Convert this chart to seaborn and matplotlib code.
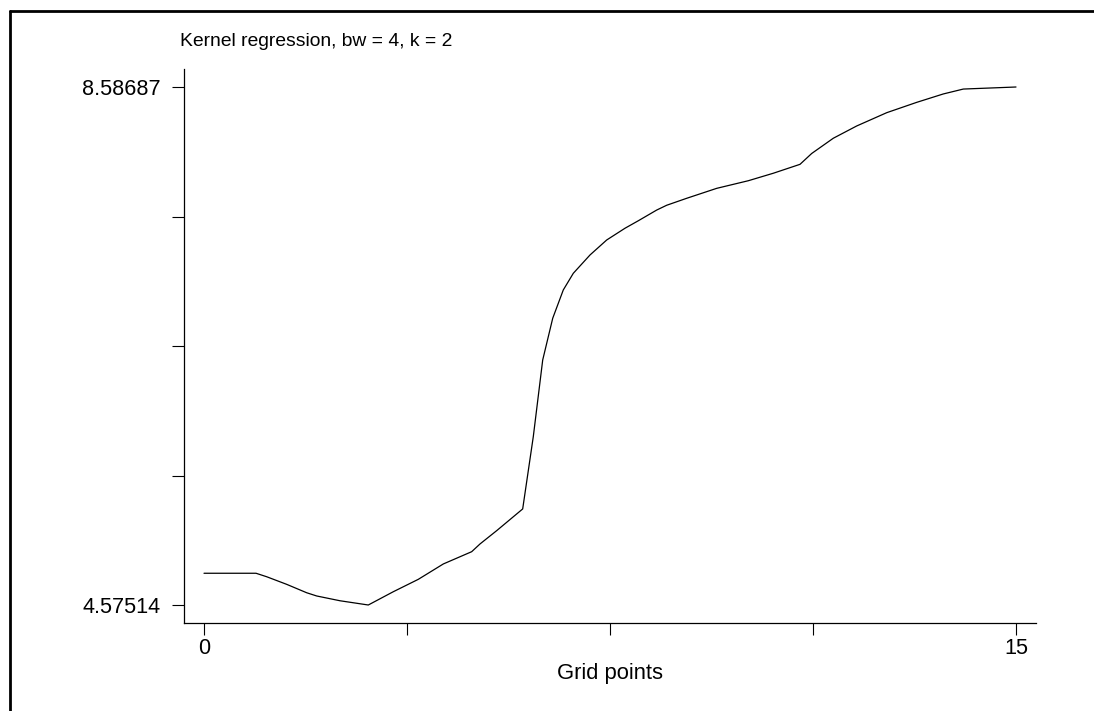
import matplotlib
matplotlib.use("Agg")
import matplotlib.pyplot as plt
from matplotlib.lines import Line2D
import seaborn as sns
import pandas as pd

# values
grid_x = [0.0, 0.961, 1.158, 1.528, 1.897, 2.082, 2.512, 3.035, 3.497, 3.959,
          4.421, 4.945, 5.099, 5.407, 5.887, 6.083, 6.257, 6.442, 6.637, 6.822,
          7.131, 7.439, 7.777, 8.023, 8.363, 8.547, 8.917, 9.471, 10.055, 10.517,
          11.010, 11.226, 11.625, 12.057, 12.612, 13.166, 13.657, 14.027, 15.0]
fit_y = [4.821, 4.821, 4.794, 4.735, 4.670, 4.645, 4.608, 4.57514, 4.678, 4.774,
         4.893, 4.988, 5.048, 5.151, 5.319, 5.879, 6.473, 6.796, 7.015, 7.144,
         7.286, 7.402, 7.493, 7.551, 7.634, 7.671, 7.725, 7.802, 7.861, 7.919,
         7.988, 8.072, 8.190, 8.285, 8.388, 8.468, 8.533, 8.571, 8.58687]

y_min = 4.57514
y_max = 8.58687
y_tick_labels = ["4.57514", "", "", "", "8.58687"]
x_tick_vals = [0, 3.75, 7.5, 11.25, 15]
x_tick_labels = ["0", "", "", "", "15"]
title = "Kernel regression, bw = 4, k = 2"
x_label = "Grid points"

df = pd.DataFrame({"x": grid_x, "y": fit_y})

sns.set_style("ticks")
plt.rcParams["font.family"] = ["Liberation Sans", "DejaVu Sans"]
plt.rcParams["text.color"] = "black"
plt.rcParams["axes.labelcolor"] = "black"
plt.rcParams["xtick.color"] = "black"
plt.rcParams["ytick.color"] = "black"

fig = plt.figure(figsize=(10.94, 7.11), dpi=100)
ax = fig.add_axes([184 / 1094, 1 - 623 / 711, 852 / 1094, 554 / 711])

sns.lineplot(data=df, x="x", y="y", ax=ax, color="black", linewidth=0.9)

step = (y_max - y_min) / 4
ax.set_yticks([y_min + k * step for k in range(5)])
ax.set_yticklabels(y_tick_labels)
ax.set_xticks(x_tick_vals)
ax.set_xticklabels(x_tick_labels)

px_x = 15 / 812
px_y = (y_max - y_min) / 518
ax.set_xlim(-20 * px_x, 15 + 20 * px_x)
ax.set_ylim(y_min - 18 * px_y, y_max + 18 * px_y)

ax.set_xlabel(x_label, fontsize=15.8, labelpad=3)
ax.set_ylabel("")
ax.tick_params(axis="both", length=8.6, width=0.8, labelsize=15.6,
               color="black", labelcolor="black")
ax.tick_params(axis="y", pad=8)
ax.tick_params(axis="x", pad=2)
for side in ["top", "right"]:
    ax.spines[side].set_visible(False)
for side in ["left", "bottom"]:
    ax.spines[side].set_linewidth(0.9)
    ax.spines[side].set_color("black")

fig.text(180 / 1094, 1 - 42 / 711, title, fontsize=13.9, va="center", ha="left", color="black")

# outer frame (left and top edges only visible)
fx = 9.5 / 1094
fy = 1 - 11 / 711
fig.add_artist(Line2D([fx, fx], [0, fy], transform=fig.transFigure, color="black", linewidth=2))
fig.add_artist(Line2D([fx, 1], [fy, fy], transform=fig.transFigure, color="black", linewidth=2))

plt.savefig("out.png", dpi=100)
plt.close()
